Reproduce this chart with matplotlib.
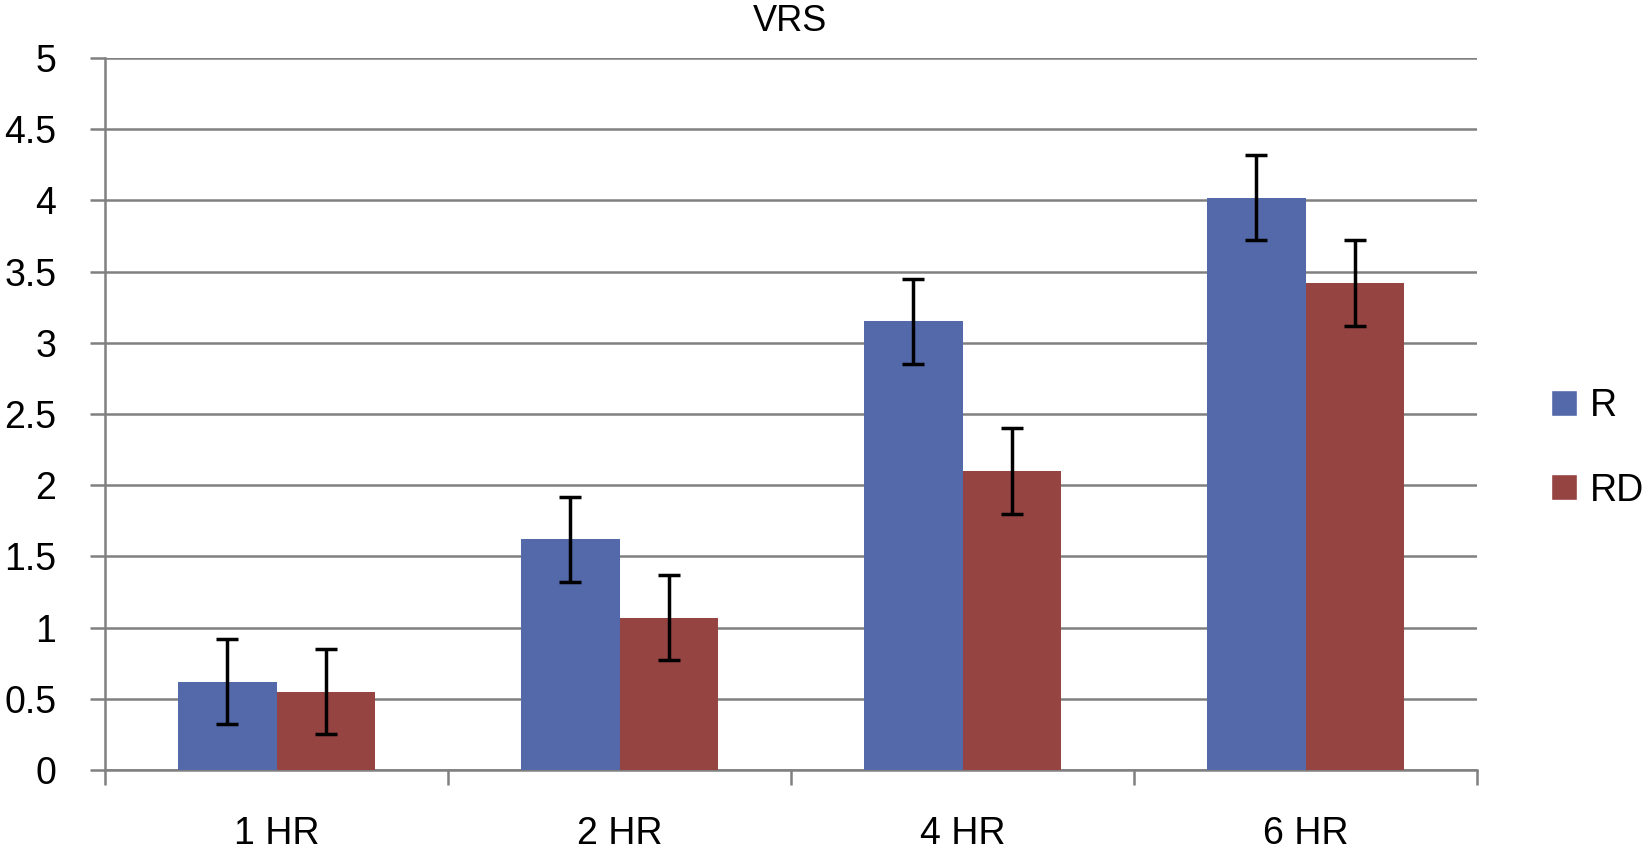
import matplotlib.pyplot as plt
import numpy as np
from matplotlib.lines import Line2D

categories = ["1 HR", "2 HR", "4 HR", "6 HR"]
r_vals = [0.62, 1.62, 3.15, 4.02]
rd_vals = [0.55, 1.07, 2.10, 3.42]
r_err = [0.30, 0.30, 0.30, 0.30]
rd_err = [0.30, 0.30, 0.30, 0.30]
yticks = [0, 0.5, 1, 1.5, 2, 2.5, 3, 3.5, 4, 4.5, 5]
ytick_labels = ["0", "0.5", "1", "1.5", "2", "2.5", "3", "3.5", "4", "4.5", "5"]

blue = "#5469aa"
red = "#954442"
grey = "#808080"

plt.rcParams['font.family'] = ['Liberation Sans', 'DejaVu Sans']

fig = plt.figure(figsize=(16.49, 8.67), dpi=100)
ax = fig.add_axes([0.0637, 0.1119, 0.832, 0.8211])

x = np.arange(len(categories)) + 0.5
w = 0.286
err_kw = dict(ecolor="black", elinewidth=2.5, capsize=8, capthick=2.5)
ax.bar(x - w / 2, r_vals, w, color=blue, yerr=r_err, error_kw=err_kw, zorder=3)
ax.bar(x + w / 2, rd_vals, w, color=red, yerr=rd_err, error_kw=err_kw, zorder=3)

ax.set_xlim(0, len(categories))
ax.set_ylim(0, 5)
ax.set_yticks(yticks)
ax.set_yticklabels(ytick_labels)
ax.yaxis.grid(True, color=grey, linewidth=1.8, zorder=0)
ax.set_axisbelow(True)

# category labels between boundary ticks
ax.set_xticks(np.arange(len(categories) + 1))
ax.set_xticklabels([])
ax.set_xticks(x, minor=True)
ax.set_xticklabels(categories, minor=True)
ax.tick_params(axis="x", which="minor", length=0, pad=33, labelsize=27)
ax.tick_params(axis="x", which="major", length=11, width=1.8, color=grey, direction="out")
ax.tick_params(axis="y", length=11, width=1.8, color=grey, direction="out", pad=24, labelsize=27)

for side in ["top", "right"]:
    ax.spines[side].set_visible(False)
for side in ["left", "bottom"]:
    ax.spines[side].set_color(grey)
    ax.spines[side].set_linewidth(1.8)

fig.text(0.479, 0.975, "VRS", ha="center", va="center", fontsize=26)

handles = [
    Line2D([0], [0], marker="s", color="w", markerfacecolor=blue, markersize=19, linestyle="None"),
    Line2D([0], [0], marker="s", color="w", markerfacecolor=red, markersize=19, linestyle="None"),
]
fig.legend(handles, ["R", "RD"], loc="center left", bbox_to_anchor=(0.93, 0.483),
           frameon=False, fontsize=27, handlelength=0.8, handletextpad=0.3,
           labelspacing=1.3, borderaxespad=0)

fig.savefig("out.png", dpi=100)
